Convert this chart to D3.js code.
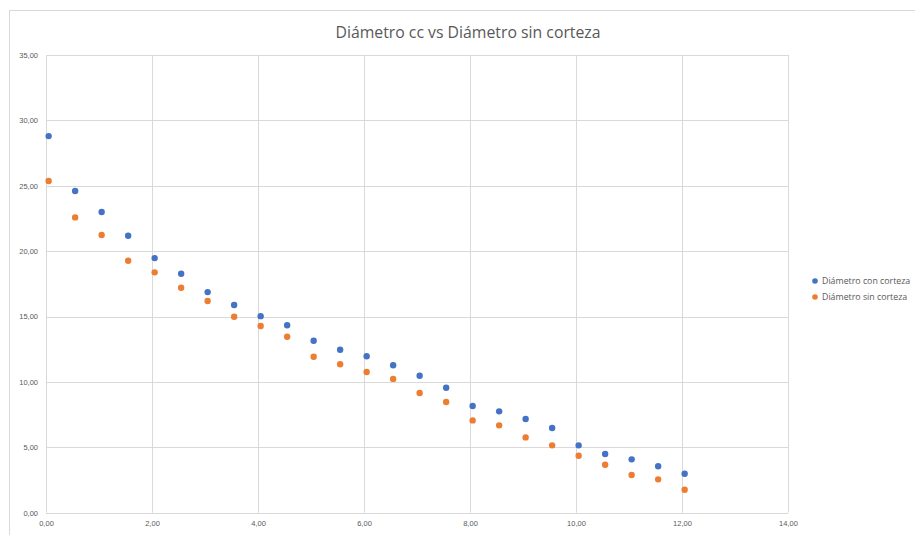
<!DOCTYPE html>
<html><head><meta charset="utf-8">
<script src="https://cdn.jsdelivr.net/npm/d3@7"></script>
<style>body{margin:0;background:#fff;}svg{display:block;font-family:"Open Sans","Noto Sans",sans-serif;}</style>
</head><body>
<svg id="c" width="915" height="535"></svg>
<script>
const title = "Diámetro cc vs Diámetro sin corteza";
const seriesNames = ["Diámetro con corteza", "Diámetro sin corteza"];
const xValues = [0.05,0.55,1.05,1.55,2.05,2.55,3.05,3.55,4.05,4.55,5.05,5.55,6.05,6.55,7.05,7.55,8.05,8.55,9.05,9.55,10.05,10.55,11.05,11.55,12.05];
const conCorteza = [28.80,24.60,22.99,21.18,19.47,18.27,16.87,15.88,15.03,14.33,13.15,12.46,11.96,11.27,10.47,9.56,8.16,7.75,7.16,6.48,5.15,4.49,4.08,3.55,2.98];
const sinCorteza = [25.36,22.58,21.23,19.27,18.38,17.20,16.19,14.98,14.28,13.46,11.93,11.35,10.76,10.23,9.15,8.46,7.06,6.68,5.76,5.15,4.36,3.67,2.88,2.55,1.76];
const xTicks = [0,2,4,6,8,10,12,14];
const yTicks = [0,5,10,15,20,25,30,35];
const colors = ["#4472C4", "#ED7D31"];

const svg = d3.select("#c");
const fmt = v => v.toFixed(2).replace(".", ",");

// outer chart border
svg.append("rect").attr("x", 9.5).attr("y", 10.5).attr("width", 940).attr("height", 560)
  .attr("fill", "#fff").attr("stroke", "#d9d9d9");

const x = d3.scaleLinear().domain([0, 14]).range([46, 788]);
const y = d3.scaleLinear().domain([0, 35]).range([512.7, 55]);

// gridlines
const g = svg.append("g");
g.selectAll(".vg").data(xTicks).join("line")
  .attr("x1", d => Math.round(x(d)) + 0.5).attr("x2", d => Math.round(x(d)) + 0.5)
  .attr("y1", y(35)).attr("y2", y(0))
  .attr("stroke", "#d9d9d9").attr("stroke-width", 1);
g.selectAll(".hg").data(yTicks).join("line")
  .attr("y1", d => Math.round(y(d)) + 0.5).attr("y2", d => Math.round(y(d)) + 0.5)
  .attr("x1", x(0)).attr("x2", x(14))
  .attr("stroke", "#d9d9d9").attr("stroke-width", 1);

// axes labels via d3 axes
const xAxis = d3.axisBottom(x).tickValues(xTicks).tickFormat(fmt).tickSize(0).tickPadding(8);
const xa = svg.append("g").attr("transform", `translate(0,${y(0)})`).call(xAxis);
xa.select(".domain").remove();
xa.selectAll("text").attr("fill", "#595959").attr("font-size", 7.5);

const yAxis = d3.axisLeft(y).tickValues(yTicks).tickFormat(fmt).tickSize(0).tickPadding(8);
const ya = svg.append("g").attr("transform", `translate(${x(0)},0)`).call(yAxis);
ya.select(".domain").remove();
ya.selectAll("text").attr("fill", "#595959").attr("font-size", 7.5);

// points
const series = [conCorteza, sinCorteza];
series.forEach((vals, i) => {
  svg.append("g").selectAll("circle").data(vals).join("circle")
    .attr("cx", (d, j) => x(xValues[j])).attr("cy", d => y(d))
    .attr("r", 3.2).attr("fill", colors[i]);
});

// title
svg.append("text").attr("x", 468).attr("y", 38).attr("text-anchor", "middle")
  .attr("font-size", 15.8).attr("fill", "#595959").text(title);

// legend
const lg = svg.append("g");
seriesNames.forEach((n, i) => {
  const yy = 281 + i * 16;
  lg.append("circle").attr("cx", 815).attr("cy", yy).attr("r", 2.8).attr("fill", colors[i]);
  lg.append("text").attr("x", 822).attr("y", yy + 3).attr("font-size", 8.8).attr("fill", "#595959").text(n);
});
</script>
</body></html>
